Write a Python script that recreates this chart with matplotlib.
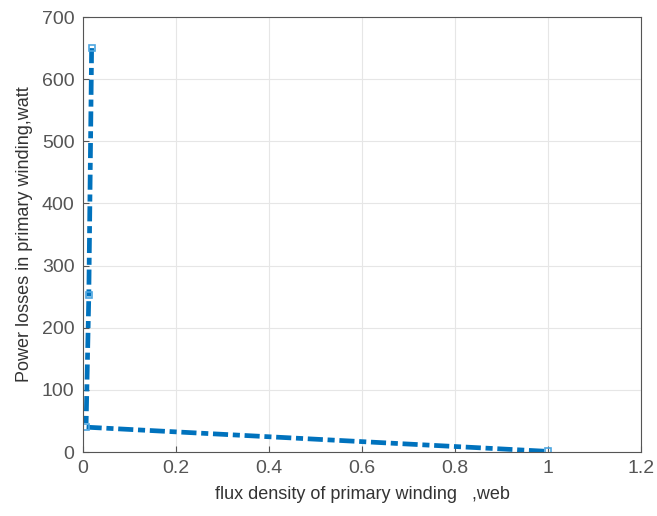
import matplotlib
matplotlib.use("Agg")
import matplotlib.pyplot as plt

# values
flux = [0.019, 0.013, 0.007, 1.0]
losses = [650, 253, 40, 1]

x_ticks = [0, 0.2, 0.4, 0.6, 0.8, 1, 1.2]
x_labels = ['0', '0.2', '0.4', '0.6', '0.8', '1', '1.2']
y_ticks = [0, 100, 200, 300, 400, 500, 600, 700]

plt.rcParams['font.family'] = ['Liberation Sans', 'DejaVu Sans']

fig = plt.figure(figsize=(6.57, 5.16), dpi=100)
ax = fig.add_axes([0.126, 0.124, 0.85, 0.843])

line, = ax.plot(flux, losses, color='#0072BD', linestyle='-.', linewidth=3.4,
                marker='s', markersize=5, markerfacecolor='none',
                markeredgecolor='#4DA6E0', markeredgewidth=1.2)
line.set_dashes([3.2, 1.0, 1.5, 1.0])

ax.set_xlim(0, 1.2)
ax.set_ylim(0, 700)
ax.set_xticks(x_ticks)
ax.set_xticklabels(x_labels)
ax.set_yticks(y_ticks)
ax.grid(True, color='#e6e6e6', linewidth=0.8)
ax.set_axisbelow(True)

for s in ax.spines.values():
    s.set_color('#555555')
    s.set_linewidth(0.8)
ax.tick_params(colors='#555555', labelsize=14, direction='in', length=4, pad=6)

ax.set_xlabel('flux density of primary winding   ,web', fontsize=13, color='#333333', labelpad=6)
ax.set_ylabel('Power losses in primary winding,watt', fontsize=13, color='#333333', labelpad=6)

fig.savefig('out.png', dpi=100)
